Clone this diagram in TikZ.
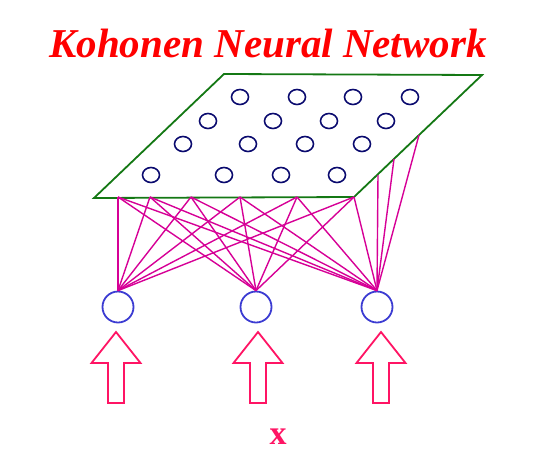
\documentclass[tikz,border=0pt]{standalone}
\usepackage{fontspec}
\setmainfont{Liberation Serif}
\usetikzlibrary{shapes.geometric, positioning}

\definecolor{gridgreen}{RGB}{20,120,20}
\definecolor{unitnavy}{RGB}{10,10,110}
\definecolor{linkpink}{RGB}{214,0,150}
\definecolor{inblue}{RGB}{60,60,210}
\definecolor{arrowred}{RGB}{255,20,100}

\begin{document}
\begin{tikzpicture}
	[x=1pt, y=-1pt,
	 unit/.style={ellipse, draw=unitnavy, line width=1.6pt, minimum width=17pt, minimum height=15pt, inner sep=0pt},
	 input/.style={circle, draw=inblue, line width=1.8pt, minimum size=31pt, inner sep=0pt},
	 link/.style={draw=linkpink, line width=1.4pt},
	 inarrow/.style={draw=arrowred, line width=1.8pt, line join=miter}]
   \useasboundingbox (0,0) rectangle (539,459);

   \node[text=red, font=\fontsize{41}{41}\selectfont\bfseries\itshape, anchor=base] (title) at (268,57) {Kohonen Neural Network};

   % Kohonen layer
   \coordinate (tl) at (224,74);
   \coordinate (tr) at (482,75);
   \coordinate (br) at (354,197);
   \coordinate (bl) at (94,198);
   \draw[gridgreen, line width=1.8pt] (tl) -- (tr) -- (br) -- (bl) -- cycle;

   \foreach \x [count=\i] in {240,297,353,410} \node[unit] (k-1-\i) at (\x,97) {};
   \foreach \x [count=\i] in {208,273,329,386} \node[unit] (k-2-\i) at (\x,121) {};
   \foreach \x [count=\i] in {183,248,305,362} \node[unit] (k-3-\i) at (\x,144) {};
   \foreach \x [count=\i] in {151,224,281,337} \node[unit] (k-4-\i) at (\x,175) {};

   % attachment points
   \foreach \x [count=\i] in {118,150,191,240,297,354} \coordinate (b\i) at (\x,197);
   \coordinate (r1) at (378,175);
   \coordinate (r2) at (394,159);
   \coordinate (r3) at (419,135);

   % input layer
   \node[input] (in1) at (118,307) {};
   \node[input] (in2) at (256,307) {};
   \node[input] (in3) at (377,307) {};

   \foreach \n in {1,2,3}
     \foreach \i in {1,...,6}
       \path[link] (in\n.north) -- (b\i);
   \foreach \i in {1,2,3}
     \path[link] (in3.north) -- (r\i);

   % input arrows
   \foreach \c in {116,258,381}
     \draw[inarrow] (\c,332) -- (\c+24.5,363) -- (\c+8,363) -- (\c+8,403)
        -- (\c-8,403) -- (\c-8,363) -- (\c-24.5,363) -- cycle;

   \node[text=arrowred, font=\fontsize{34}{34}\selectfont\bfseries] (xlabel) at (278,437) {x};
\end{tikzpicture}
\end{document}
